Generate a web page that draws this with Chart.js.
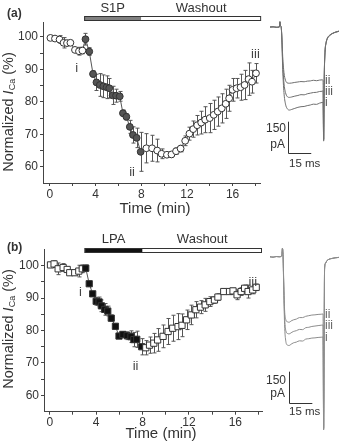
<!DOCTYPE html>
<html>
<head>
<meta charset="utf-8">
<script src="https://cdn.jsdelivr.net/npm/chart.js@4.4.0/dist/chart.umd.min.js"></script>
<style>
  body { margin: 0; background: #fff; width: 339px; height: 442px; overflow: hidden; position: relative;
         font-family: "Liberation Sans", Arial, sans-serif; color: #333; }
  canvas { position: absolute; }
  .lbl { position: absolute; white-space: nowrap; line-height: 1; }
  .ytitle { position: absolute; width: 170px; height: 18px; line-height: 18px; text-align: center;
            font-size: 14.5px; transform: rotate(-90deg); white-space: nowrap; }
  .ytitle sub { font-size: 9px; vertical-align: -2px; line-height: 0; }
  .xtitle { position: absolute; width: 120px; text-align: center; font-size: 15px; line-height: 1; }
</style>
</head>
<body>
<canvas id="mainA" width="270" height="220" style="left:0;top:0"></canvas>
<canvas id="mainB" width="270" height="222" style="left:0;top:220px"></canvas>
<canvas id="traceA" width="69" height="165" style="left:270px;top:0"></canvas>
<canvas id="traceB" width="69" height="222" style="left:270px;top:220px"></canvas>

<div class="lbl" style="left:7px;top:7px;font-weight:bold;font-size:12px">(a)</div>
<div class="lbl" style="left:7px;top:241px;font-weight:bold;font-size:12px">(b)</div>
<div class="ytitle" style="left:-77px;top:103px">Normalized <i>I</i><sub>Ca</sub> (%)</div>
<div class="ytitle" style="left:-77px;top:320px">Normalized <i>I</i><sub>Ca</sub> (%)</div>
<div class="xtitle" style="left:95px;top:200px">Time (min)</div>
<div class="xtitle" style="left:101px;top:425px">Time (min)</div>

<div class="lbl" style="right:53px;top:122px;font-size:12px">150</div>
<div class="lbl" style="right:54px;top:138px;font-size:12px">pA</div>
<div class="lbl" style="left:289px;top:158px;font-size:11.5px">15 ms</div>
<div class="lbl" style="left:325px;top:74px;font-size:12px;color:#555">ii</div>
<div class="lbl" style="left:325px;top:85px;font-size:12px;color:#555">iii</div>
<div class="lbl" style="left:325px;top:96px;font-size:12px;color:#555">i</div>

<div class="lbl" style="right:53px;top:374px;font-size:12px">150</div>
<div class="lbl" style="right:54px;top:387px;font-size:12px">pA</div>
<div class="lbl" style="left:289px;top:406px;font-size:11.5px">15 ms</div>
<div class="lbl" style="left:325px;top:308px;font-size:12px;color:#666">ii</div>
<div class="lbl" style="left:325px;top:319px;font-size:12px;color:#666">iii</div>
<div class="lbl" style="left:325px;top:331px;font-size:12px;color:#666">i</div>

<script>
// ---- panel (a): S1P ----
var timeA = [0.05, 0.45, 0.85, 1.2, 1.5, 1.8, 2.2, 2.55, 2.85, 3.12,
  3.45, 3.78, 4.08, 4.38, 4.68, 4.97, 5.2, 5.5, 5.8, 6.12,
  6.4, 6.7, 7.0, 7.28, 7.6, 7.95, 8.45, 8.95, 9.4, 9.78,
  10.25, 10.65, 11.05, 11.45, 11.85, 12.22, 12.55, 12.9, 13.25, 13.6,
  14.0, 14.35, 14.7, 15.05, 15.4, 15.7, 16.0, 16.35, 16.7, 17.05,
  17.4, 17.7, 18.05];
var icaA = [99.7, 99.5, 99.2, 98.2, 98.1, 98.2, 96.0, 95.6, 95.8, 99.3,
  95.5, 88.6, 86.0, 85.2, 84.8, 84.5, 84.2, 82.0, 81.9, 81.7,
  76.5, 75.4, 72.3, 69.8, 68.9, 64.6, 65.7, 65.7, 65.0, 64.0,
  63.7, 63.8, 64.8, 65.6, 68.0, 70.2, 71.6, 72.8, 73.6, 74.5,
  75.0, 76.0, 77.0, 78.0, 79.4, 81.1, 83.7, 84.2, 84.5, 85.2,
  87.0, 86.2, 88.8];
var semA = [0.5, 0.6, 1.2, 1.6, 0.8, 0.5, 0.6, 1.2, 1.0, 1.8,
  1.2, 1.0, 2.5, 3.5, 3.5, 3.5, 3.0, 2.8, 2.0, 1.5,
  1.0, 1.0, 2.0, 2.5, 3.0, 6.0, 4.5, 4.0, 3.5, 1.5,
  0.8, 0.8, 1.0, 1.0, 1.5, 2.0, 2.5, 3.0, 3.5, 4.0,
  4.5, 4.5, 4.5, 4.5, 4.5, 4.0, 3.5, 3.0, 4.0, 4.5,
  5.0, 3.5, 3.0];
var phasesA = [3, 8, 18.5];            // drug on, washout on, end (min)
var phaseLabelsA = ['S1P', 'Washout'];
var marksA = ['i', 'ii', 'iii'];
var markTimesA = [2.35, 7.2, 18.0];
var markValsA = [90.2, 58.2, 94.5];

// ---- panel (b): LPA ----
var timeB = [0.06, 0.37, 0.72, 1.15, 1.5, 1.72, 2.15, 2.5, 2.8, 3.1,
  3.4, 3.7, 4.0, 4.25, 4.45, 4.74, 5.0, 5.3, 5.66, 5.97,
  6.3, 6.67, 7.0, 7.25, 7.5, 7.93, 8.28, 8.6, 8.97, 9.3,
  9.77, 10.2, 10.6, 11.06, 11.4, 11.8, 12.2, 12.6, 13.0, 13.4,
  13.8, 14.2, 14.5, 15.0, 15.5, 15.8, 16.15, 16.5, 16.8, 17.1,
  17.5, 17.8];
var icaB = [100.2, 100.5, 99.0, 99.4, 98.8, 97.8, 97.8, 98.3, 99.0, 99.2,
  94.4, 91.3, 89.0, 88.8, 87.6, 86.5, 86.0, 83.8, 81.3, 78.3,
  78.8, 78.4, 78.1, 77.2, 77.3, 75.0, 74.7, 75.5, 76.1, 77.1,
  78.2, 79.7, 80.7, 81.2, 81.6, 83.3, 84.8, 86.4, 87.2, 87.9,
  88.9, 89.4, 90.3, 92.0, 92.0, 92.2, 91.0, 92.0, 93.0, 92.0,
  92.5, 93.3];
var semB = [0.6, 1.0, 1.8, 1.2, 0.8, 0.6, 0.8, 1.8, 1.2, 1.0,
  0.8, 0.6, 1.2, 1.5, 1.8, 1.8, 1.5, 1.0, 0.8, 0.6,
  0.8, 1.2, 1.8, 2.2, 2.5, 2.5, 2.2, 2.5, 3.0, 3.5,
  3.5, 4.0, 4.0, 4.0, 3.5, 3.0, 3.0, 2.5, 2.0, 2.0,
  1.5, 1.0, 1.0, 0.8, 0.8, 0.8, 1.5, 1.2, 1.0, 2.0,
  1.2, 1.0];
var phasesB = [3, 8, 18.3];
var phaseLabelsB = ['LPA', 'Washout'];
var marksB = ['i', 'ii', 'iii'];
var markTimesB = [2.65, 7.4, 17.5];
var markValsB = [91.7, 68.9, 94.8];

var xTicks = [0, 2, 4, 6, 8, 10, 12, 14, 16, 18];
var yTicks = [60, 65, 70, 75, 80, 85, 90, 95, 100];

// ---- current traces (ms, pA relative to holding) ----
var traceTimeA = [0, 2, 4, 6, 6.4, 6.8, 7.2, 7.6, 8.2, 9, 10, 11, 12.5, 14, 16, 18, 20, 22, 24, 26,
  28, 30, 32, 33.6, 34.2, 34.6, 35.0, 35.5, 36.2, 37, 38.5, 40.5, 42.5, 44.5];
var traceA_i = [0, 1, -1, 0, 25, 6, 0, -50, -200, -310, -365, -385, -393, -390, -385, -380, -377, -376, -372, -369,
  -365, -366, -360, -357, -356, -540, -240, -120, -75, -55, -40, -30, -24, -20];
var traceA_ii = [0, 1, -1, 0, 25, 6, 0, -38, -140, -215, -252, -264, -266, -265, -262, -260, -258, -259, -256, -255,
  -252, -254, -251, -250, -251, -530, -230, -115, -72, -52, -38, -29, -23, -19];
var traceA_iii = [0, 1, -1, 0, 25, 6, 0, -45, -170, -265, -310, -328, -333, -331, -327, -324, -320, -321, -316, -313,
  -310, -309, -305, -304, -302, -535, -235, -118, -74, -54, -40, -30, -24, -20];

var traceTimeB = [0, 2, 4, 6, 7.6, 8.0, 8.4, 8.8, 9.4, 10.2, 11.2, 12.4, 13.6, 15, 17, 19, 21, 23, 25, 27,
  29, 31, 33, 34.2, 34.6, 35.2, 35.8, 36.6, 38, 40, 42, 44.5];
var traceB_i = [0, -2, 1, 0, 5, 40, 10, -130, -320, -400, -418, -420, -414, -408, -404, -398, -399, -390, -388, -385,
  -384, -382, -381, -380, -820, -60, -32, -20, -12, -8, -5, -3];
var traceB_ii = [0, -2, 1, 0, 5, 40, 10, -100, -250, -298, -308, -310, -304, -299, -295, -288, -288, -282, -279, -276,
  -275, -273, -272, -271, -810, -55, -30, -19, -12, -8, -5, -3];
var traceB_iii = [0, -2, 1, 0, 5, 40, 10, -115, -280, -350, -363, -365, -360, -354, -350, -344, -345, -336, -334, -330,
  -328, -326, -324, -323, -815, -58, -31, -20, -12, -8, -5, -3];

var scaleBarPA = 150;
var scaleBarMs = 15;

var FONT = '"Liberation Sans", Arial, sans-serif';

// error bars, treatment bar and roman numerals for a time-course panel
function panelExtras(p) {
  return {
    id: 'panelExtras',
    beforeDatasetsDraw: function(chart) {
      var ctx = chart.ctx, x = chart.scales.x, y = chart.scales.y;
      ctx.save();
      ctx.strokeStyle = '#555';
      ctx.lineWidth = 1;
      ctx.beginPath();
      p.times.forEach(function(t, i) {
        var px = Math.round(x.getPixelForValue(t)) + 0.5;
        var top = y.getPixelForValue(p.values[i] + p.sem[i]);
        var bot = y.getPixelForValue(p.values[i] - p.sem[i]);
        ctx.moveTo(px, top); ctx.lineTo(px, bot);
        ctx.moveTo(px - 2, top); ctx.lineTo(px + 2, top);
        ctx.moveTo(px - 2, bot); ctx.lineTo(px + 2, bot);
      });
      ctx.stroke();
      ctx.restore();
    },
    afterDraw: function(chart) {
      var ctx = chart.ctx, x = chart.scales.x, y = chart.scales.y;
      var x0 = x.getPixelForValue(p.phases[0]);
      var x1 = x.getPixelForValue(p.phases[1]);
      var x2 = x.getPixelForValue(p.phases[2]);
      ctx.save();
      // treatment bar
      ctx.fillStyle = p.barColor;
      ctx.fillRect(x0, p.barTop, x1 - x0, p.barH);
      ctx.fillStyle = '#fff';
      ctx.fillRect(x1, p.barTop, x2 - x1, p.barH);
      ctx.strokeStyle = '#333';
      ctx.lineWidth = 1;
      ctx.strokeRect(x0 + 0.5, p.barTop + 0.5, x2 - x0 - 1, p.barH - 1);
      ctx.fillStyle = '#333';
      ctx.font = '13px ' + FONT;
      ctx.textAlign = 'center';
      ctx.textBaseline = 'middle';
      ctx.fillText(p.phaseLabels[0], (x0 + x1) / 2, p.labelY);
      ctx.fillText(p.phaseLabels[1], (x1 + x2) / 2, p.labelY);
      // i / ii / iii markers
      ctx.fillStyle = '#444';
      p.marks.forEach(function(m, i) {
        ctx.fillText(m, x.getPixelForValue(p.markTimes[i]), y.getPixelForValue(p.markVals[i]));
      });
      ctx.restore();
    }
  };
}

function makePanel(id, p) {
  var tickFont = { family: FONT, size: 12 };
  return new Chart(document.getElementById(id), {
    type: 'line',
    data: {
      datasets: [{
        data: p.times.map(function(t, i) { return { x: t, y: p.values[i] }; }),
        borderColor: '#555',
        borderWidth: 1,
        tension: 0,
        pointStyle: p.shape,
        pointRadius: p.radius,
        pointBorderWidth: 1,
        pointBorderColor: '#333',
        pointBackgroundColor: function(c) {
          var t = p.times[c.dataIndex];
          return (t >= p.phases[0] && t <= p.phases[1]) ? p.drugColor : '#fff';
        }
      }]
    },
    options: {
      responsive: false,
      animation: false,
      events: [],
      layout: { padding: p.padding },
      plugins: { legend: { display: false }, tooltip: { enabled: false } },
      scales: {
        x: {
          type: 'linear', min: p.xMin, max: p.xMax,
          afterBuildTicks: function(s) { s.ticks = xTicks.map(function(v) { return { value: v }; }); },
          afterFit: function(s) { s.height = p.xAxisH; },
          grid: { drawOnChartArea: false, tickLength: 3, color: '#444' },
          border: { color: '#444', width: 1 },
          ticks: {
            autoSkip: false, maxRotation: 0, padding: 1, color: '#333', font: tickFont,
            callback: function(v) { return v % 4 === 0 ? v : ''; }
          }
        },
        y: {
          min: p.yMin, max: p.yMax,
          afterBuildTicks: function(s) { s.ticks = yTicks.map(function(v) { return { value: v }; }); },
          afterFit: function(s) { s.width = p.yAxisW; },
          grid: { drawOnChartArea: false, tickLength: 3, color: '#444' },
          border: { color: '#444', width: 1 },
          ticks: {
            autoSkip: false, padding: 2, color: '#333', font: tickFont,
            callback: function(v) { return v % 10 === 0 ? v : ''; }
          }
        }
      }
    },
    plugins: [panelExtras(p)]
  });
}

function scaleBar(s) {
  return {
    id: 'scaleBar',
    afterDraw: function(chart) {
      var ctx = chart.ctx, x = chart.scales.x, y = chart.scales.y;
      var xa = Math.round(x.getPixelForValue(s.t0)) + 0.5;
      var xb = x.getPixelForValue(s.t0 + scaleBarMs);
      var ya = y.getPixelForValue(s.i0 + scaleBarPA);
      var yb = Math.round(y.getPixelForValue(s.i0)) + 0.5;
      ctx.save();
      ctx.strokeStyle = '#333';
      ctx.lineWidth = 1;
      ctx.beginPath();
      ctx.moveTo(xa, ya); ctx.lineTo(xa, yb); ctx.lineTo(xb, yb);
      ctx.stroke();
      ctx.restore();
    }
  };
}

function makeTrace(id, s) {
  return new Chart(document.getElementById(id), {
    type: 'line',
    data: {
      datasets: s.traces.map(function(tr) {
        return {
          data: s.time.map(function(t, i) { return { x: t, y: tr[i] }; }),
          borderColor: s.color,
          borderWidth: 1,
          pointRadius: 0,
          cubicInterpolationMode: 'monotone'
        };
      })
    },
    options: {
      responsive: false,
      animation: false,
      events: [],
      layout: { padding: 0 },
      plugins: { legend: { display: false }, tooltip: { enabled: false } },
      scales: {
        x: { type: 'linear', display: false, min: 0, max: 44.5 },
        y: { display: false, min: s.iMin, max: s.iMax }
      }
    },
    plugins: [scaleBar(s)]
  });
}

makePanel('mainA', {
  times: timeA, values: icaA, sem: semA, phases: phasesA, phaseLabels: phaseLabelsA,
  marks: marksA, markTimes: markTimesA, markVals: markValsA,
  shape: 'circle', radius: 3.4, drugColor: '#555', barColor: '#808080',
  xMin: -0.6, xMax: 18.4, yMin: 55, yMax: 104.6,
  padding: { top: 22, right: 10, left: 0, bottom: 0 }, yAxisW: 43, xAxisH: 37,
  barTop: 16, barH: 5, labelY: 8
});

makePanel('mainB', {
  times: timeB, values: icaB, sem: semB, phases: phasesB, phaseLabels: phaseLabelsB,
  marks: marksB, markTimes: markTimesB, markVals: markValsB,
  shape: 'rect', radius: 4.4, drugColor: '#111', barColor: '#111',
  xMin: -0.5, xMax: 18.3, yMin: 55, yMax: 105.1,
  padding: { top: 29, right: 8, left: 0, bottom: 0 }, yAxisW: 44, xAxisH: 30.3,
  barTop: 28, barH: 5, labelY: 19.5
});

makeTrace('traceA', {
  time: traceTimeA, traces: [traceA_i, traceA_iii, traceA_ii], color: '#6e6e6e',
  iMin: -653, iMax: 128, t0: 11.6, i0: -598
});

makeTrace('traceB', {
  time: traceTimeB, traces: [traceB_i, traceB_iii, traceB_ii], color: '#8c8c8c',
  iMin: -877, iMax: 174, t0: 12.3, i0: -694
});
</script>
</body>
</html>
